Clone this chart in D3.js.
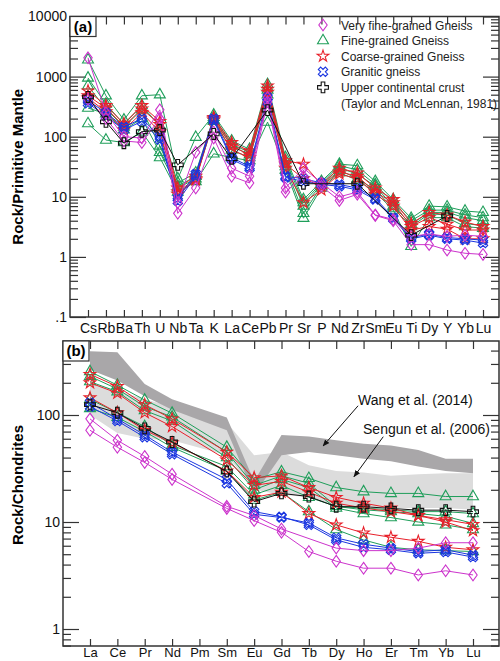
<!DOCTYPE html>
<html>
<head>
<meta charset="utf-8">
<script src="https://cdn.jsdelivr.net/npm/d3@7"></script>
<style>
body { margin: 0; background: #fff; }
svg { display: block; font-family: "Liberation Sans", Arial, sans-serif; }
</style>
</head>
<body>
<svg></svg>
<script>
const svgWidth = 500;
const svgHeight = 661;

// ---------- data ----------
const spiderElements = ["Cs","Rb","Ba","Th","U","Nb","Ta","K","La","Ce","Pb","Pr","Sr","P","Nd","Zr","Sm","Eu","Ti","Dy","Y","Yb","Lu"];
const reeElements = ["La","Ce","Pr","Nd","Pm","Sm","Eu","Gd","Tb","Dy","Ho","Er","Tm","Yb","Lu"];

// (a) rock / primitive mantle
const vfgSpider = [
	[2050, 250, 100, 95, 280, 8, 55, 120, 30, 22, 450, 14, 30, 17, 10, 12, 5, 4.2, 2.2, 2.4, 2.2, 2.3, 2.2],
	[420, 200, 85, 80, 200, 5.3, 14, 95, 22, 17, 380, 12, 22, 15, 8.7, 11, 4.9, 4.0, 1.6, 1.6, 1.3, 1.15, 1.1]
];
const fgSpider = [
	[1900, 480, 190, 480, 500, 20, 98, 230, 85, 62, 740, 45, 9, 18, 35, 33, 18, 9, 4.4, 7, 6.8, 5.8, 5.5],
	[950, 350, 160, 330, 150, 17, 25, 210, 75, 55, 650, 40, 8, 17, 33, 28, 16, 8, 4, 6, 6, 5, 4.5],
	[700, 290, 145, 280, 70, 15, 22, 190, 70, 50, 600, 35, 7, 16, 30, 24, 15, 7, 3.5, 5.5, 5.5, 4.5, 4],
	[300, 240, 130, 200, 55, 14, 20, 180, 60, 45, 500, 32, 5.3, 15, 28, 20, 13, 6.5, 3.2, 5.2, 5, 3.6, 3.3],
	[165, 88, 80, 120, 45, 12, 18, 52, 45, 40, 175, 28, 4.4, 14, 25, 19, 12, 6, 1.5, 4.5, 4.5, 3.2, 3.0]
];
const cgSpider = [
	[580, 330, 165, 330, 180, 14, 22, 210, 80, 58, 700, 40, 35, 16, 30, 25, 14, 9, 3.6, 5.5, 5, 3.8, 3.2],
	[480, 300, 150, 290, 160, 12, 20, 200, 70, 50, 620, 35, 20, 15, 26, 22, 12, 8, 3.2, 4.5, 3.5, 2.8, 2.8],
	[440, 260, 130, 250, 120, 11, 19, 190, 60, 45, 550, 30, 8, 13, 24, 20, 11, 7, 2.8, 3.2, 2.9, 2.0, 2.0]
];
const ggSpider = [
	[400, 250, 145, 200, 100, 9.5, 24, 200, 45, 32, 450, 22, 20, 17, 16, 14, 9.5, 4.5, 2.1, 2.4, 2.1, 2.0, 1.9],
	[360, 220, 130, 180, 90, 8.5, 22, 185, 42, 30, 380, 21, 18, 16, 15, 13, 9, 4.3, 2.0, 2.3, 2.0, 1.9, 1.7]
];
const uccSpider = [
	[458, 177, 78, 121, 129, 34, null, 111, 43, null, 277, null, 16.5, null, null, 16.5, null, null, 2.3, null, 4.8, null, null]
];

// (b) rock / chondrites
const vfgRee = [
	[92, 58, 41, 28, null, 14, 11.5, 8.6, null, 5.7, 5.4, 5.4, 5.7, 6.4, 6.4],
	[72, 50, 36, 25, null, 13.4, 10.3, 8.0, 5.3, 4.3, 3.7, 3.7, 3.2, 3.5, 3.2]
];
const fgRee = [
	[255, 190, 138, 104, null, 50, 25, 29.5, 25.6, 21, 19.2, 18.5, 18.5, 17.3, 17.3],
	[230, 175, 120, 96, null, 45, 22, 27, 23, 14, 13, 12.5, 12, 11.3, 9.7],
	[205, 165, 110, 88, null, 40, 20, 25, 21, 13.5, 12, 11, 10, 9.4, 8.5],
	[140, 105, 78, 52, null, 33, 18, 22, 17, 14, 13.5, 13, 12.5, 12.5, 12],
	[115, 95, 70, 50, null, 30, 16, 19, 12.5, 8.5, 6.8, 5.8, 5.5, 5.4, 5.3]
];
const cgRee = [
	[240, 185, 125, 92, null, 45, 26, 27, 21, 17, 15, 13.5, 11.5, 10, 8.3],
	[200, 160, 105, 78, null, 38, 22, 24, 19, 15, 13.5, 12.5, 11.5, 10.5, 9.5],
	[145, 105, 72, 55, null, 30, 17, 19, 12, 9.4, 7.9, 7.2, 6.6, 5.8, 5.5]
];
const ggRee = [
	[130, 92, 65, 45, null, 25, 12.5, 11.2, 9.4, 6.8, 5.8, 5.5, 5.1, 5.25, 4.7],
	[120, 88, 62, 43, null, 23, 11.8, 11.0, 9.8, 7.1, 6.2, 5.7, 5.3, 5.5, 4.9]
];
const uccRee = [
	[125, 105, 75, 56, null, 29.6, 15.5, 18.5, 17.3, 13.9, 13.9, 13.4, 12.9, 12.9, 12.5]
];

// reference fields
const wangTop = [395, 385, 195, 140, null, 95, 24, 65, 63, 58, 54, 52, 47, 39, 39];
const wangBottom = [265, 210, 150, 112, null, 72, 18, 42, 45, 42, 39, 37, 33, 30, 28.5];
const sengunTop = [200, 170, 140, 120, null, 85, 42, 45, 34, 30, 29, 27, 28, 28.5, 28.5];
const sengunBottom = [100, 68, 60, 58, null, 42, 20, 18, 17, 14, 14, 13.5, 13.5, 13.5, 13];

const spiderTicks = [0.1, 1, 10, 100, 1000, 10000];
const spiderTickLabels = [".1", "1", "10", "100", "1000", "10000"];
const reeTicks = [1, 10, 100];

const legendLabels = ["Very fine-grained Gneiss", "Fine-grained Gneiss", "Coarse-grained Gneiss", "Granitic gneiss", "Upper continental crust"];
const legendNote = "(Taylor and McLennan, 1981)";

// ---------- symbols ----------
const symDiamond = {
	draw(ctx, size) {
		const h = Math.sqrt(size) * 0.58, w = h * 0.72;
		ctx.moveTo(0, -h); ctx.lineTo(w, 0); ctx.lineTo(0, h); ctx.lineTo(-w, 0); ctx.closePath();
	}
};

const groups = [
	{ key: "fg", color: "#1f9e5a", type: d3.symbolTriangle, size: 52, rot: 0 },
	{ key: "cg", color: "#e8202a", type: d3.symbolStar, size: 42, rot: 0 },
	{ key: "gg", color: "#1a35e0", type: d3.symbolCross, size: 55, rot: 45 },
	{ key: "vfg", color: "#cc33cc", type: symDiamond, size: 100, rot: 0 },
	{ key: "ucc", color: "#111", type: d3.symbolCross, size: 65, rot: 0 }
];
const legendOrder = ["vfg", "fg", "cg", "gg", "ucc"];

const spiderData = { vfg: vfgSpider, fg: fgSpider, cg: cgSpider, gg: ggSpider, ucc: uccSpider };
const reeData = { vfg: vfgRee, fg: fgRee, cg: cgRee, gg: ggRee, ucc: uccRee };

const svg = d3.select("svg")
	.attr("width", svgWidth)
	.attr("height", svgHeight);

// ---------- panel geometry ----------
const boxA = { left: 70, right: 499, top: 16.5, bottom: 317 };
const boxB = { left: 63, right: 499, top: 341, bottom: 646 };

const xA = d3.scalePoint().domain(spiderElements).range([boxA.left + 18, boxA.right - 16]);
const yA = d3.scaleLog().domain([0.1, 10000]).range([boxA.bottom, boxA.top]);

const reeIndex = d3.scaleLinear().domain([0, reeElements.length - 1]).range([90, 473]);
const xB = d3.scalePoint().domain(reeElements).range(reeIndex.range());
const yB = d3.scaleLog()
	.domain([Math.pow(10, -17 / 107), Math.pow(10, 2 + 74 / 107)])
	.range([boxB.bottom, boxB.top]);

function minorTicks(scale) {
	return scale.ticks().filter(t => {
		const m = t / Math.pow(10, Math.floor(Math.log10(t) + 1e-9));
		return Math.abs(m - 1) > 1e-6;
	});
}

function drawFrame(box, x, y, majors, labels) {
	const g = svg.append("g");
	// left, major
	g.append("g")
		.attr("transform", `translate(${box.left},0)`)
		.call(d3.axisLeft(y).tickValues(majors).tickSize(-16).tickPadding(3)
			.tickFormat((d, i) => labels[i]))
		.call(a => a.select(".domain").remove())
		.call(a => a.selectAll("text").attr("font-size", 14).attr("fill", "#111"));
	g.append("g")
		.attr("transform", `translate(${box.left},0)`)
		.call(d3.axisLeft(y).tickValues(minorTicks(y)).tickSize(-8).tickFormat(""))
		.call(a => a.select(".domain").remove());
	// right
	g.append("g")
		.attr("transform", `translate(${box.right},0)`)
		.call(d3.axisRight(y).tickValues(majors).tickSize(-16).tickFormat(""))
		.call(a => a.select(".domain").remove());
	g.append("g")
		.attr("transform", `translate(${box.right},0)`)
		.call(d3.axisRight(y).tickValues(minorTicks(y)).tickSize(-8).tickFormat(""))
		.call(a => a.select(".domain").remove());
	// top
	g.append("g")
		.attr("transform", `translate(0,${box.top})`)
		.call(d3.axisTop(x).tickSize(-8).tickFormat(""))
		.call(a => a.select(".domain").remove());
	g.selectAll("line").attr("stroke", "#333").attr("stroke-width", 1.2);
	return g;
}

function bottomAxis(box, x, pad, fontSize) {
	svg.append("g")
		.attr("transform", `translate(0,${box.bottom})`)
		.call(d3.axisBottom(x).tickSize(-7).tickPadding(pad))
		.call(a => a.select(".domain").remove())
		.call(a => a.selectAll("line").attr("stroke", "#333").attr("stroke-width", 1.2))
		.call(a => a.selectAll("text").attr("font-size", fontSize).attr("fill", "#111"));
}

function drawBox(box, label) {
	svg.append("rect")
		.attr("x", box.left).attr("y", box.top)
		.attr("width", box.right - box.left).attr("height", box.bottom - box.top)
		.attr("fill", "none").attr("stroke", "#333").attr("stroke-width", 1.5);
	svg.append("rect")
		.attr("x", box.left).attr("y", box.top)
		.attr("width", 26).attr("height", 20)
		.attr("fill", "#fff").attr("stroke", "#333").attr("stroke-width", 1.2);
	svg.append("text")
		.text(label)
		.attr("x", box.left + 13).attr("y", box.top + 15)
		.attr("text-anchor", "middle")
		.attr("font-size", 15).attr("font-weight", "bold");
}

function drawSeries(cats, x, y, dataByKey) {
	groups.forEach(grp => {
		const rows = dataByKey[grp.key];
		rows.forEach(row => {
			const pts = row.map((v, i) => ({ cat: cats[i], v: v })).filter(d => d.v != null);
			const g = svg.append("g");
			g.append("path")
				.datum(pts)
				.attr("d", d3.line().x(d => x(d.cat)).y(d => y(d.v)))
				.attr("fill", "none")
				.attr("stroke", grp.color)
				.attr("stroke-width", 1);
			g.selectAll(".pt")
				.data(pts)
				.enter()
				.append("path")
					.attr("transform", d => `translate(${x(d.cat)},${y(d.v)}) rotate(${grp.rot})`)
					.attr("d", d3.symbol(grp.type, grp.size))
					.attr("fill", "none")
					.attr("stroke", grp.color)
					.attr("stroke-width", 1.1);
		});
	});
}

// ---------- panel (a) ----------
drawFrame(boxA, xA, yA, spiderTicks, spiderTickLabels);
bottomAxis(boxA, xA, 6, 14);
drawSeries(spiderElements, xA, yA, spiderData);
drawBox(boxA, "(a)");

// legend
const legend = svg.append("g");
legendOrder.forEach((key, i) => {
	const grp = groups.find(g => g.key === key);
	const cy = 25 + i * 15.6;
	legend.append("path")
		.attr("transform", `translate(323,${cy}) rotate(${grp.rot})`)
		.attr("d", d3.symbol(grp.type, grp.size))
		.attr("fill", "none")
		.attr("stroke", grp.color)
		.attr("stroke-width", 1.1);
	legend.append("text")
		.text(legendLabels[i])
		.attr("x", 341).attr("y", cy + 4.5)
		.attr("font-size", 12).attr("fill", "#222");
});
legend.append("text")
	.text(legendNote)
	.attr("x", 341).attr("y", 25 + 5 * 15.6 + 4.5)
	.attr("font-size", 12).attr("fill", "#222");

// ---------- panel (b) ----------
function band(top, bottom) {
	return reeElements.map((c, i) => ({ cat: c, hi: top[i], lo: bottom[i] })).filter(d => d.hi != null);
}
const area = d3.area().x(d => xB(d.cat)).y0(d => yB(d.lo)).y1(d => yB(d.hi));
svg.append("path").datum(band(sengunTop, sengunBottom)).attr("d", area).attr("fill", "#dcdcdc");
svg.append("path").datum(band(wangTop, wangBottom)).attr("d", area).attr("fill", "#a9a7a9");

drawFrame(boxB, xB, yB, reeTicks, reeTicks.map(String));
bottomAxis(boxB, xB, 2, 13);
drawSeries(reeElements, xB, yB, reeData);
drawBox(boxB, "(b)");

// annotations
svg.append("defs").append("marker")
	.attr("id", "arrow")
	.attr("viewBox", "0 0 10 10")
	.attr("refX", 9).attr("refY", 5)
	.attr("markerWidth", 7).attr("markerHeight", 7)
	.attr("orient", "auto")
	.append("path").attr("d", "M0,1 L10,5 L0,9 Z").attr("fill", "#111");

const notes = [
	{ text: "Wang et al. (2014)", tx: 9.80, tv: 124, from: [9.80, 122], to: [8.52, 51.3] },
	{ text: "Sengun et al. (2006)", tx: 9.98, tv: 66.4, from: [10.72, 62.7], to: [9.65, 26.5] }
];
notes.forEach(n => {
	svg.append("line")
		.attr("x1", reeIndex(n.from[0])).attr("y1", yB(n.from[1]))
		.attr("x2", reeIndex(n.to[0])).attr("y2", yB(n.to[1]))
		.attr("stroke", "#111").attr("stroke-width", 1)
		.attr("marker-end", "url(#arrow)");
	svg.append("text")
		.text(n.text)
		.attr("x", reeIndex(n.tx)).attr("y", yB(n.tv))
		.attr("font-size", 14).attr("fill", "#111");
});

// axis titles
svg.append("text")
	.text("Rock/Primitive Mantle")
	.attr("transform", "rotate(-90)")
	.attr("x", -(boxA.top + boxA.bottom) / 2)
	.attr("y", 23)
	.attr("text-anchor", "middle")
	.attr("font-size", 15).attr("font-weight", "bold");

svg.append("text")
	.text("Rock/Chondrites")
	.attr("transform", "rotate(-90)")
	.attr("x", -485)
	.attr("y", 23)
	.attr("text-anchor", "middle")
	.attr("font-size", 15).attr("font-weight", "bold");
</script>
</body>
</html>
